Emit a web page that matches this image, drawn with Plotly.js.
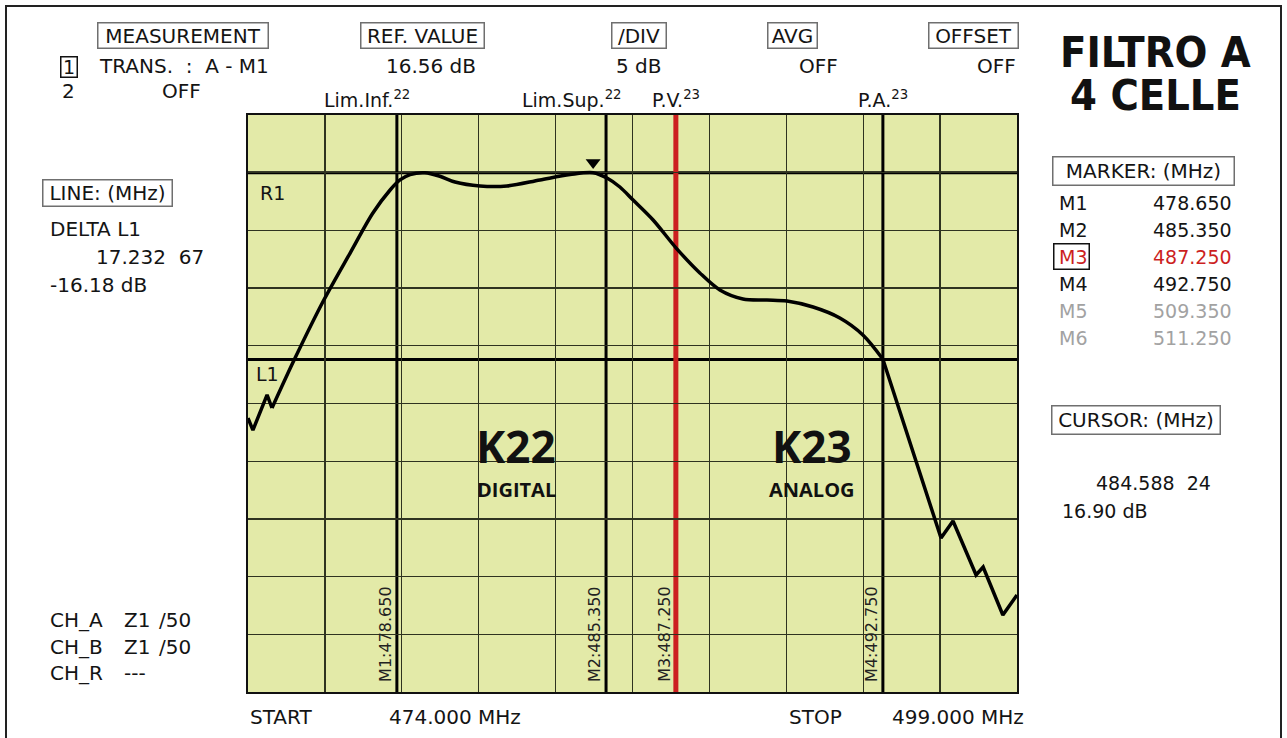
<!DOCTYPE html>
<html>
<head>
<meta charset="utf-8">
<script src="https://cdn.plot.ly/plotly-3.0.1.min.js"></script>
<style>
  html, body { margin: 0; padding: 0; background: #ffffff; }
  #chart { width: 1287px; height: 738px; }
</style>
</head>
<body>
<div id="chart"></div>
<script>
// ---------------- DATA ----------------
const freqStart = 474.0;          // MHz
const freqStop = 499.0;           // MHz
const refLevel = 16.56;           // dB (R1)
const dbPerDiv = 5;               // dB / div
const deltaL1 = -16.18;           // dB (L1 relative to R1)

// response trace (MHz, dB)
const lowJagX = [474.00, 474.16, 474.62, 474.78];
const lowJagY = [-4.70, -5.74, -2.70, -3.83];

const passX = [474.78, 475.53, 476.44, 477.32, 478.06, 478.62, 478.94, 479.27, 479.75, 480.24,
               480.73, 481.54, 482.42, 483.49, 484.47, 485.22, 485.67, 486.09, 486.52, 487.17,
               487.92, 488.69, 489.34, 490.09, 490.87, 491.52, 492.37, 493.24, 493.99, 494.64];
const passY = [-3.83, 0.50, 5.40, 9.60, 13.07, 15.06, 15.93, 16.40, 16.56, 16.25,
               15.75, 15.41, 15.41, 15.93, 16.40, 16.56, 16.10, 15.32, 14.19, 12.46,
               10.03, 7.87, 6.40, 5.62, 5.53, 5.44, 4.92, 3.97, 2.50, 0.40];

const highJagX = [494.64, 496.53, 496.92, 497.67, 497.90, 498.54, 499.00];
const highJagY = [0.40, -15.10, -13.62, -18.30, -17.61, -21.77, -20.03];

// marker lines as drawn on the screen (MHz) and their labels
const markerNames = ['M1', 'M2', 'M3', 'M4', 'M5', 'M6'];
const markerFreqs = ['478.650', '485.350', '487.250', '492.750', '509.350', '511.250'];
const markerDrawX = [478.84, 485.64, 487.91, 494.64];
const markerTopLabels = ['Lim.Inf.<sup>22</sup>', 'Lim.Sup.<sup>22</sup>', 'P.V.<sup>23</sup>', 'P.A.<sup>23</sup>'];

// peak pointer (triangle)
const peakPtrX = [485.22];
const peakPtrY = [17.45];

// channel blocks
const blockNames = ['K22', 'K23'];
const blockTypes = ['DIGITAL', 'ANALOG'];
const blockX = [482.72, 492.32];

// ---------------- GEOMETRY HELPERS ----------------
const PL = 248, PR = 1017, PT = 115, PB = 692;
function px(x) { return (x - PL) / (PR - PL); }
function py(y) { return (PB - y) / (PB - PT); }

const F = 'DejaVu Sans, sans-serif';
const FB = 'Open Sans, DejaVu Sans, sans-serif';
const FT = 'Liberation Sans Narrow, DejaVu Sans Condensed, DejaVu Sans, sans-serif';
const INK = '#141414';
const RED = '#cc1f1f';
const GREY = '#a2a2a2';

function T(text, x, y, anchor, size, color, family) {
  return {
    text: text, xref: 'paper', yref: 'paper', x: px(x), y: py(y),
    xanchor: anchor || 'left', yanchor: 'middle', showarrow: false,
    font: { family: family || F, size: size || 20, color: color || INK }
  };
}
function BOX(text, x0, x1, y0, y1, size, bcolor) {
  return {
    text: text, xref: 'paper', yref: 'paper', x: px((x0 + x1) / 2), y: py((y0 + y1) / 2),
    xanchor: 'center', yanchor: 'middle', showarrow: false,
    width: x1 - x0 - 4, height: y1 - y0 - 4, borderpad: 1,
    bordercolor: bcolor || '#6f6f6f', borderwidth: 1.5,
    font: { family: F, size: size || 20, color: INK }
  };
}

// ---------------- TRACES ----------------
const lineStyle = { color: '#000000', width: 3.5 };
const traces = [
  { x: lowJagX, y: lowJagY, mode: 'lines', line: Object.assign({ shape: 'linear' }, lineStyle), hoverinfo: 'skip' },
  { x: passX, y: passY, mode: 'lines', line: Object.assign({ shape: 'spline', smoothing: 0.9 }, lineStyle), hoverinfo: 'skip' },
  { x: highJagX, y: highJagY, mode: 'lines', line: Object.assign({ shape: 'linear' }, lineStyle), hoverinfo: 'skip' },
  { x: peakPtrX, y: peakPtrY, mode: 'markers', marker: { symbol: 'triangle-down', size: 13, color: '#000' }, hoverinfo: 'skip' }
];

// ---------------- SHAPES ----------------
const l1Level = refLevel + deltaL1;
const shapes = [];
[refLevel, l1Level].forEach(v => shapes.push({
  type: 'line', xref: 'paper', yref: 'y', x0: 0, x1: 1, y0: v, y1: v,
  line: { color: '#000', width: 3 }, layer: 'between'
}));
markerDrawX.forEach((v, i) => shapes.push({
  type: 'line', xref: 'x', yref: 'paper', x0: v, x1: v, y0: 0, y1: 1,
  line: { color: i === 2 ? RED : '#000', width: i === 2 ? 5 : 3 }, layer: 'between'
}));
// outer frame
shapes.push({
  type: 'rect', xref: 'paper', yref: 'paper', x0: px(6), x1: px(1281), y0: py(750), y1: py(6),
  line: { color: '#222', width: 2 }, fillcolor: 'rgba(0,0,0,0)', layer: 'above'
});

// ---------------- ANNOTATIONS ----------------
const ann = [];
// header row
ann.push(BOX('MEASUREMENT', 97, 268, 22, 48));
ann.push(BOX('REF. VALUE', 360, 484, 22, 48));
ann.push(BOX('/DIV', 611, 666, 22, 48));
ann.push(BOX('AVG', 767, 817, 22, 48));
ann.push(BOX('OFFSET', 928, 1018, 22, 48));
ann.push(BOX('1', 60, 77, 56, 77, 19, '#111'));
ann.push(T('TRANS.  :  A - M1', 97, 66));
ann.push(T(refLevel.toFixed(2) + ' dB', 478, 66, 'right'));
ann.push(T(dbPerDiv + ' dB', 664, 66, 'right'));
ann.push(T('OFF', 840, 66, 'right'));
ann.push(T('OFF', 1018, 66, 'right'));
ann.push(T('2', 68, 91, 'center'));
ann.push(T('OFF', 203, 91, 'right'));

// title
ann.push(T('<b>FILTRO A</b>', 1155, 52, 'center', 43, '#111', FT));
ann.push(T('<b>4 CELLE</b>', 1155, 95, 'center', 43, '#111', FT));

// labels above marker lines
const topShift = [-30, -34, 0, 0];
markerTopLabels.forEach((t, i) => ann.push({
  text: t, xref: 'x', yref: 'paper', x: markerDrawX[i], y: py(99), xshift: topShift[i],
  xanchor: 'center', yanchor: 'middle', showarrow: false,
  font: { family: F, size: 19, color: INK }
}));

// rotated marker labels inside plot
markerDrawX.forEach((v, i) => ann.push({
  text: markerNames[i] + ':' + markerFreqs[i], xref: 'x', yref: 'paper', x: v, y: py(634), xshift: -12,
  xanchor: 'center', yanchor: 'middle', textangle: -90, showarrow: false,
  font: { family: F, size: 16, color: '#222' }
}));

// R1 / L1
ann.push(T('R1', 258, 193, 'left', 19));
ann.push(T('L1', 254, 374, 'left', 19));

// channel blocks
blockNames.forEach((n, i) => {
  ann.push({ text: '<b>' + n + '</b>', xref: 'x', yref: 'paper', x: blockX[i], y: py(446),
    xanchor: 'center', yanchor: 'middle', showarrow: false, font: { family: FB, size: 44, color: '#111' } });
  ann.push({ text: '<b>' + blockTypes[i] + '</b>', xref: 'x', yref: 'paper', x: blockX[i], y: py(489),
    xanchor: 'center', yanchor: 'middle', showarrow: false, font: { family: FB, size: 20, color: '#111' } });
});

// left panel
ann.push(BOX('LINE: (MHz)', 42, 172, 180, 207));
ann.push(T('DELTA L1', 48, 229));
ann.push(T('17.232  67', 206, 257, 'right'));
ann.push(T(deltaL1.toFixed(2) + ' dB', 48, 285));
const chNames = ['CH_A', 'CH_B', 'CH_R'];
const chZ = ['Z1', 'Z1', '---'];
const chImp = ['/50', '/50', ''];
const chY = [620, 647, 673];
chNames.forEach((n, i) => {
  ann.push(T(n, 48, chY[i]));
  ann.push(T(chZ[i], 122, chY[i]));
  if (chImp[i]) ann.push(T(chImp[i], 157, chY[i]));
});

// right panel
ann.push(BOX('MARKER: (MHz)', 1052, 1234, 157, 186));
const rowY = [203, 230, 257, 284, 311, 338];
markerNames.forEach((n, i) => {
  const col = i === 2 ? RED : (i >= 4 ? GREY : INK);
  ann.push(T(n, 1057, rowY[i], 'left', 19, col));
  ann.push(T(markerFreqs[i], 1234, rowY[i], 'right', 19, col));
});
ann.push({ text: ' ', xref: 'paper', yref: 'paper', x: px(1071), y: py(256.5), xanchor: 'center', yanchor: 'middle',
  showarrow: false, width: 34, height: 24, bordercolor: '#111', borderwidth: 1.5, borderpad: 0, font: { size: 12 } });
ann.push(BOX('CURSOR: (MHz)', 1051, 1220, 405, 434));
ann.push(T('484.588  24', 1213, 483, 'right', 19));
ann.push(T('16.90 dB', 1060, 511, 'left', 19));

// bottom row
ann.push(T('START', 248, 717));
ann.push(T(freqStart.toFixed(3) + ' MHz', 387, 717));
ann.push(T('STOP', 787, 717));
ann.push(T(freqStop.toFixed(3) + ' MHz', 890, 717));

// ---------------- LAYOUT ----------------
const layout = {
  width: 1287, height: 738,
  margin: { l: PL, r: 1287 - PR, t: PT, b: 738 - PB, pad: 0 },
  paper_bgcolor: '#ffffff',
  plot_bgcolor: '#e3eaa8',
  showlegend: false,
  xaxis: {
    range: [freqStart, freqStop], tick0: freqStart, dtick: (freqStop - freqStart) / 10,
    showgrid: true, gridcolor: '#2f3320', gridwidth: 1.4, zeroline: false,
    showticklabels: false, ticks: '', showline: true, mirror: true,
    linecolor: '#111', linewidth: 2, fixedrange: true
  },
  yaxis: {
    range: [refLevel - 9 * dbPerDiv, refLevel + dbPerDiv], tick0: refLevel, dtick: dbPerDiv,
    showgrid: true, gridcolor: '#2f3320', gridwidth: 1.4, zeroline: false,
    showticklabels: false, ticks: '', showline: true, mirror: true,
    linecolor: '#111', linewidth: 2, fixedrange: true
  },
  shapes: shapes,
  annotations: ann
};

Plotly.newPlot('chart', traces, layout, { displayModeBar: false, staticPlot: true });
</script>
</body>
</html>
